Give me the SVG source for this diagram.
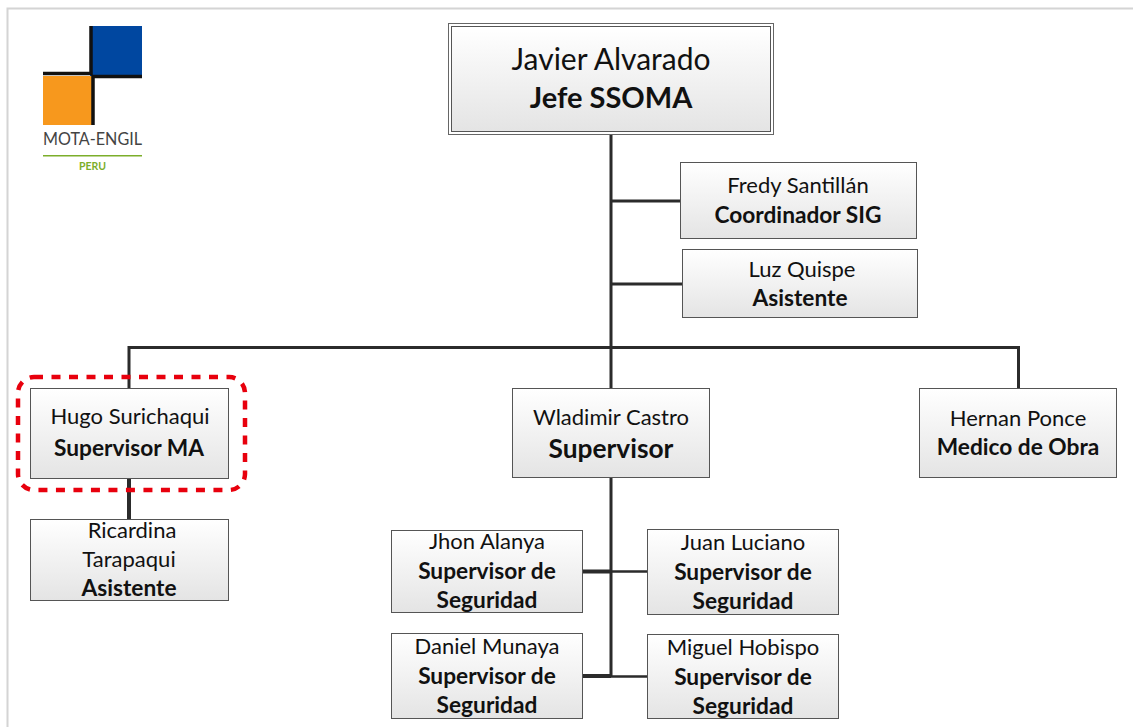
<svg xmlns="http://www.w3.org/2000/svg" width="1133" height="727" viewBox="0 0 1133 727">
<defs>
<linearGradient id="g" x1="0" y1="0" x2="0" y2="1"><stop offset="0" stop-color="#ffffff"/><stop offset="1" stop-color="#e4e4e4"/></linearGradient>
</defs>
<style>
text{font-family:Lato,"Open Sans",sans-serif;fill:#111;text-anchor:middle}
.b{fill:url(#g);stroke:#555;stroke-width:1}
.n{font-size:22px}
.t{font-size:22.700px;font-weight:700}
.c{stroke:#2b2b2b;stroke-width:3;fill:none}
</style>
<rect width="1133" height="727" fill="#fff"/>
<path d="M7.500 727V8.500H1133" fill="none" stroke="#d4d4d4" stroke-width="2"/>
<g id="logo">
<rect x="90" y="26" width="52" height="52" fill="#0047a0"/>
<rect x="43" y="76" width="50" height="49" fill="#f7981d"/>
<path d="M91 26V73.500H43M142 76.500H93V125" fill="none" stroke="#111" stroke-width="3.500"/>
<text x="92.500" y="145" textLength="99" lengthAdjust="spacingAndGlyphs" style="font-size:18px;fill:#444">MOTA-ENGIL</text>
<rect x="43" y="155" width="99" height="1.500" fill="#7cae2b"/>
<text x="92.500" y="170" style="font-size:10.500px;font-weight:700;fill:#7cae2b">PERU</text>
</g>
<g id="connectors">
<path class="c" d="M611 135V677"/>
<path class="c" d="M611 201H681M611 284H683"/>
<path class="c" d="M129 388V347.500H1018.500V388"/>
<path class="c" style="stroke-width:4" d="M129 478V519"/>
<path class="c" style="stroke-width:4" d="M583 571.500H611M583 676H611"/>
<path class="c" style="stroke-width:2.500" d="M611 571.500H647M611 676.500H647"/>
</g>
<g id="n1">
<rect x="448.500" y="23.500" width="325" height="111" fill="#fff" stroke="#666"/>
<rect x="451.500" y="26.500" width="319" height="105" class="b"/>
<text x="611" y="70" style="font-size:30px">Javier Alvarado</text>
<text x="611" y="108" style="font-size:29px;font-weight:700">Jefe SSOMA</text>
</g>
<g id="n2"><rect x="680.500" y="162.500" width="236" height="76" class="b"/><text x="798" y="193" class="n">Fredy Santillán</text><text x="798" y="223" class="t">Coordinador SIG</text></g>
<g id="n3"><rect x="682.500" y="249.500" width="235" height="68" class="b"/><text x="802" y="277" class="n">Luz Quispe</text><text x="800" y="306" class="t">Asistente</text></g>
<g id="n4"><rect x="30.500" y="388.500" width="198" height="90" class="b"/><text x="130" y="424" class="n">Hugo Surichaqui</text><text x="129" y="456" class="t">Supervisor MA</text></g>
<rect x="18" y="377" width="227" height="113" rx="16" fill="none" stroke="#e8000d" stroke-width="4.500" stroke-dasharray="9 8.500"/>
<g id="n5"><rect x="30.500" y="519.500" width="198" height="81" class="b"/><text x="132" y="538" class="n">Ricardina</text><text x="129" y="567" class="n">Tarapaqui</text><text x="129" y="596" class="t">Asistente</text></g>
<g id="n6"><rect x="512.500" y="388.500" width="197" height="89" class="b"/><text x="611" y="425" class="n">Wladimir Castro</text><text x="611" y="458" style="font-size:26.300px;font-weight:700">Supervisor</text></g>
<g id="n7"><rect x="919.500" y="388.500" width="197" height="89" class="b"/><text x="1018" y="426" class="n">Hernan Ponce</text><text x="1018" y="455" class="t">Medico de Obra</text></g>
<g id="n8"><rect x="391.500" y="530.500" width="191" height="82" class="b"/><text x="487" y="549" class="n">Jhon Alanya</text><text x="487" y="579" class="t">Supervisor de</text><text x="487" y="608" class="t">Seguridad</text></g>
<g id="n9"><rect x="647.500" y="529.500" width="191" height="85" class="b"/><text x="743" y="550" class="n">Juan Luciano</text><text x="743" y="580" class="t">Supervisor de</text><text x="743" y="609" class="t">Seguridad</text></g>
<g id="n10"><rect x="391.500" y="633.500" width="191" height="85" class="b"/><text x="487" y="654" class="n">Daniel Munaya</text><text x="487" y="684" class="t">Supervisor de</text><text x="487" y="713" class="t">Seguridad</text></g>
<g id="n11"><rect x="647.500" y="634.500" width="191" height="84" class="b"/><text x="743" y="655" class="n">Miguel Hobispo</text><text x="743" y="685" class="t">Supervisor de</text><text x="743" y="714" class="t">Seguridad</text></g>
</svg>
